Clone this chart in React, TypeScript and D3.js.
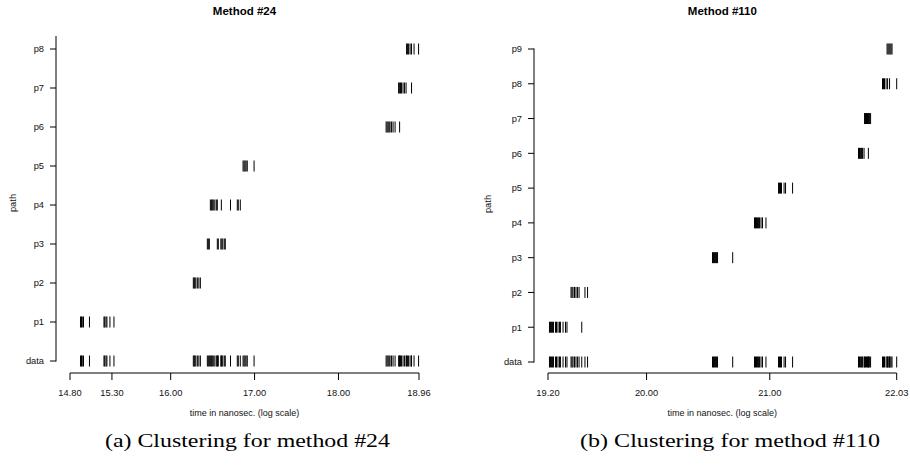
import React from "react";
import * as d3 from "d3";

// ---- Method #24 (log time values per path) ----
const m24Categories = ["data", "p1", "p2", "p3", "p4", "p5", "p6", "p7", "p8"];
const m24Ticks = [14.8, 15.3, 16.0, 17.0, 18.0, 18.96];
const m24P1 = [14.925, 14.937, 14.946, 14.961, 15.032, 15.205, 15.214, 15.229, 15.24, 15.276, 15.324];
const m24P2 = [16.27, 16.28, 16.288, 16.3, 16.318, 16.336, 16.354];
const m24P3 = [16.437, 16.449, 16.461, 16.556, 16.568, 16.598, 16.61, 16.621, 16.639, 16.651];
const m24P4 = [16.473, 16.485, 16.496, 16.508, 16.526, 16.544, 16.556, 16.604, 16.713, 16.794, 16.806, 16.83];
const m24P5 = [16.863, 16.875, 16.887, 16.899, 16.913, 16.994];
const m24P6 = [18.568, 18.58, 18.592, 18.604, 18.615, 18.633, 18.651, 18.675, 18.729];
const m24P7 = [18.717, 18.729, 18.74, 18.752, 18.77, 18.788, 18.806, 18.871];
const m24P8 = [18.812, 18.824, 18.836, 18.854, 18.871, 18.901, 18.955];

// ---- Method #110 ----
const m110Categories = ["data", "p1", "p2", "p3", "p4", "p5", "p6", "p7", "p8", "p9"];
const m110Ticks = [19.2, 20.0, 21.0, 22.03];
const m110P1 = [19.212, 19.22, 19.228, 19.237, 19.245, 19.261, 19.269, 19.281, 19.293, 19.301, 19.322, 19.342, 19.354, 19.474];
const m110P2 = [19.387, 19.395, 19.403, 19.415, 19.427, 19.439, 19.452, 19.5, 19.521];
const m110P3 = [20.535, 20.543, 20.551, 20.56, 20.568, 20.576, 20.699];
const m110P4 = [20.876, 20.884, 20.892, 20.9, 20.909, 20.917, 20.929, 20.941, 20.969];
const m110P5 = [21.071, 21.079, 21.087, 21.095, 21.116, 21.128, 21.185];
const m110P6 = [21.72, 21.728, 21.737, 21.745, 21.753, 21.765, 21.8];
const m110P7 = [21.769, 21.777, 21.785, 21.793, 21.801, 21.81, 21.818];
const m110P8 = [21.915, 21.923, 21.931, 21.944, 21.956, 21.972, 22.03];
const m110P9 = [21.952, 21.96, 21.968, 21.976, 21.984, 21.992];

const SANS = "'Liberation Sans', Arial, Helvetica, sans-serif";
const SERIF = "'Liberation Serif', 'DejaVu Serif', serif";

type PanelProps = {
  title: string;
  caption: string;
  categories: string[];
  paths: number[][];
  ticks: number[];
  xRange: [number, number];
  yRange: [number, number];
  axisX: number;
  axisTop: number;
  ylabX: number;
  ylabY: number;
  captionX: number;
  captionWidth: number;
};

function Panel(p: PanelProps) {
  const x = d3
    .scaleLinear()
    .domain([p.ticks[0], p.ticks[p.ticks.length - 1]])
    .range(p.xRange);
  const y = d3.scalePoint<string>().domain(p.categories).range(p.yRange);

  // the "data" row holds every observation, each path row its own subset
  const rows: { cat: string; vals: number[] }[] = [
    { cat: p.categories[0], vals: p.paths.flat() },
    ...p.paths.map((vals, i) => ({ cat: p.categories[i + 1], vals })),
  ];

  const axisY = 373;
  const tickLen = 7;
  const markHalf = 5.5;
  const centerX = (p.xRange[0] + p.xRange[1]) / 2;
  const yBottom = y(p.categories[0]) as number;

  return (
    <g>
      <text
        x={centerX}
        y={15}
        textAnchor="middle"
        fontFamily={SANS}
        fontWeight="bold"
        fontSize={11.5}
      >
        {p.title}
      </text>

      {/* y axis */}
      <line x1={p.axisX} x2={p.axisX} y1={p.axisTop} y2={yBottom + 0.5} stroke="#000" strokeWidth={1} />
      {p.categories.map((c) => {
        const yy = y(c) as number;
        return (
          <g key={c}>
            <line x1={p.axisX - 6} x2={p.axisX} y1={yy} y2={yy} stroke="#000" strokeWidth={1} />
            <text
              x={p.axisX - 12}
              y={yy + 3.3}
              textAnchor="end"
              fontFamily={SANS}
              fontSize={9.3}
              fill="#111"
            >
              {c}
            </text>
          </g>
        );
      })}
      <text
        transform={`translate(${p.ylabX},${p.ylabY}) rotate(-90)`}
        textAnchor="middle"
        fontFamily={SANS}
        fontSize={9.3}
        fill="#111"
      >
        path
      </text>

      {/* x axis */}
      <line x1={x(p.ticks[0])} x2={x(p.ticks[p.ticks.length - 1])} y1={axisY} y2={axisY} stroke="#000" strokeWidth={1} />
      {p.ticks.map((t) => (
        <g key={t}>
          <line x1={x(t)} x2={x(t)} y1={axisY} y2={axisY + tickLen} stroke="#000" strokeWidth={1} />
          <text
            x={x(t)}
            y={396}
            textAnchor="middle"
            fontFamily={SANS}
            fontSize={9.3}
            fill="#111"
          >
            {d3.format(".2f")(t)}
          </text>
        </g>
      ))}
      <text x={centerX} y={416} textAnchor="middle" fontFamily={SANS} fontSize={9} fill="#111">
        time in nanosec. (log scale)
      </text>

      {/* observation marks */}
      {rows.map((r) =>
        r.vals.map((v, i) => {
          const yy = y(r.cat) as number;
          return (
            <line
              key={`${r.cat}-${i}`}
              x1={x(v)}
              x2={x(v)}
              y1={yy - markHalf}
              y2={yy + markHalf}
              stroke="#000"
              strokeWidth={1}
            />
          );
        })
      )}

      <text
        x={p.captionX}
        y={447}
        textAnchor="middle"
        fontFamily={SERIF}
        fontSize={18}
        textLength={p.captionWidth}
        lengthAdjust="spacingAndGlyphs"
      >
        {p.caption}
      </text>
    </g>
  );
}

export default function App() {
  return (
    <div style={{ position: "absolute", left: 0, top: 0 }}>
      <svg width={910} height={470} style={{ display: "block", background: "#fff" }}>
        <Panel
          title="Method #24"
          caption="(a) Clustering for method #24"
          categories={m24Categories}
          paths={[m24P1, m24P2, m24P3, m24P4, m24P5, m24P6, m24P7, m24P8]}
          ticks={m24Ticks}
          xRange={[70, 419]}
          yRange={[361, 49]}
          axisX={56}
          axisTop={36}
          ylabX={15.5}
          ylabY={203}
          captionX={247.5}
          captionWidth={285}
        />
        <Panel
          title="Method #110"
          caption="(b) Clustering for method #110"
          categories={m110Categories}
          paths={[m110P1, m110P2, m110P3, m110P4, m110P5, m110P6, m110P7, m110P8, m110P9]}
          ticks={m110Ticks}
          xRange={[548, 896.7]}
          yRange={[362, 49]}
          axisX={534}
          axisTop={48.5}
          ylabX={491}
          ylabY={204}
          captionX={730}
          captionWidth={300}
        />
      </svg>
    </div>
  );
}
